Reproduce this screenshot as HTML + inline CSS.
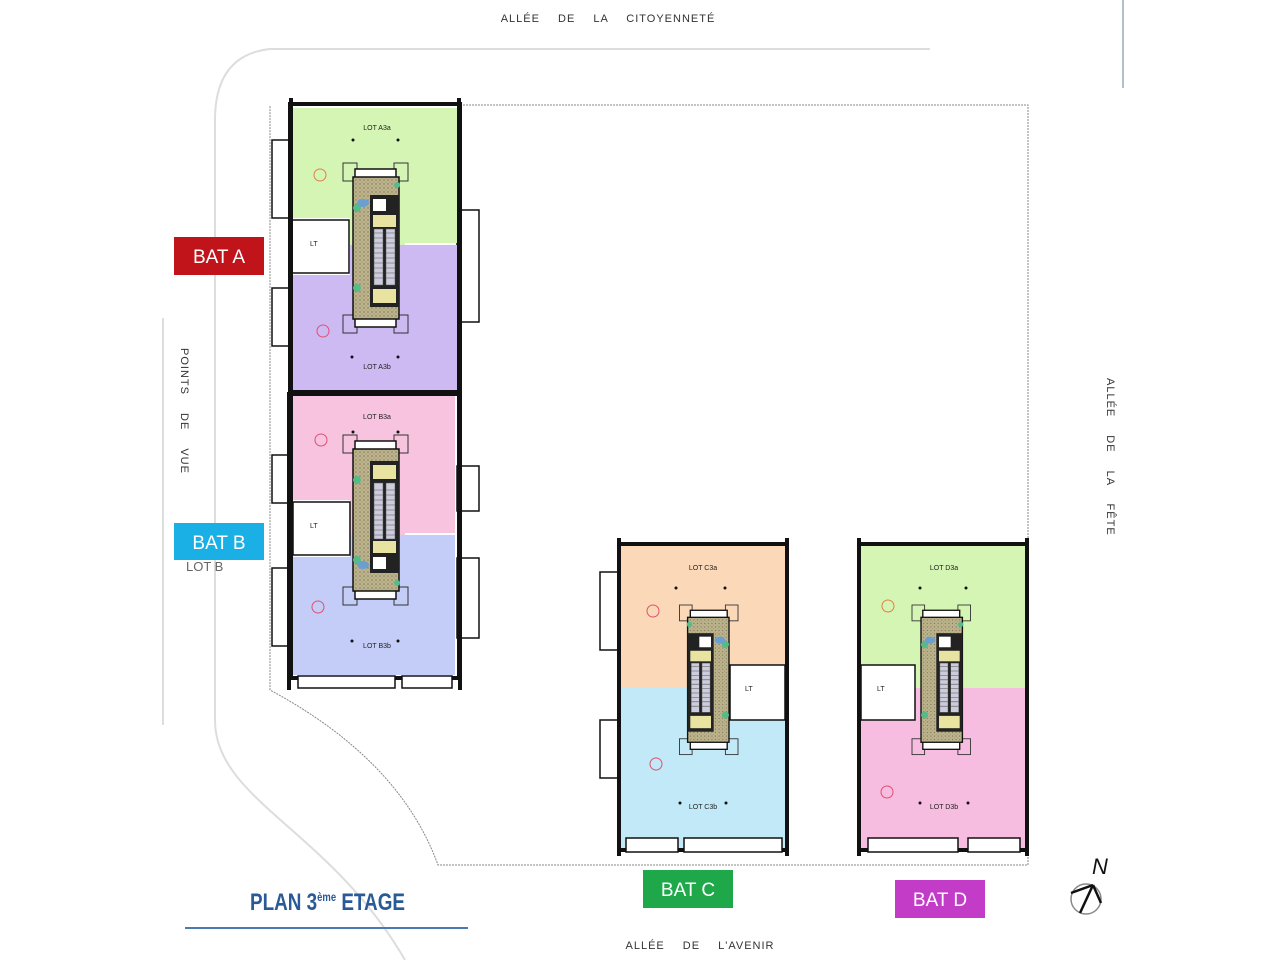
<!DOCTYPE html>
<html><head><meta charset="utf-8"><style>
html,body{margin:0;padding:0;background:#fff;width:1280px;height:960px;overflow:hidden}
svg{display:block}
text{font-family:"Liberation Sans",sans-serif}
.lbl{font-size:7px;fill:#222}
.road{font-size:11px;fill:#333;letter-spacing:1px}
</style></head><body>
<svg width="1280" height="960" viewBox="0 0 1280 960" xmlns="http://www.w3.org/2000/svg">
<defs>
<pattern id="hatch" width="4" height="4" patternUnits="userSpaceOnUse">
<rect width="4" height="4" fill="#bdb48c"/><circle cx="1" cy="1" r="0.7" fill="#7a7356"/><circle cx="3" cy="3" r="0.6" fill="#9a9274"/>
</pattern>
<g id="core">
<rect x="0" y="0" width="14" height="18" fill="none" stroke="#333" stroke-width="1"/>
<rect x="51" y="0" width="14" height="18" fill="none" stroke="#333" stroke-width="1"/>
<rect x="0" y="152" width="14" height="18" fill="none" stroke="#333" stroke-width="1"/>
<rect x="51" y="152" width="14" height="18" fill="none" stroke="#333" stroke-width="1"/>
<rect x="12" y="6" width="41" height="158" fill="#fff" stroke="#111" stroke-width="1.5"/>
<rect x="10" y="14" width="46" height="142" fill="url(#hatch)" stroke="#111" stroke-width="1.5"/>
<rect x="27" y="32" width="29" height="112" fill="#222"/>
<rect x="30" y="36" width="13" height="12" fill="#fff"/>
<rect x="30" y="52" width="23" height="12" fill="#e8e3a0"/>
<rect x="31" y="66" width="9" height="56" fill="#ccd" stroke="#555" stroke-width="0.5"/>
<rect x="43" y="66" width="9" height="56" fill="#ccd" stroke="#555" stroke-width="0.5"/>
<path d="M31 70h9M31 75h9M31 80h9M31 85h9M31 90h9M31 95h9M31 100h9M31 105h9M31 110h9M31 115h9M43 70h9M43 75h9M43 80h9M43 85h9M43 90h9M43 95h9M43 100h9M43 105h9M43 110h9M43 115h9" stroke="#555" stroke-width="0.6"/>
<rect x="30" y="126" width="23" height="14" fill="#e8e3a0"/>
<circle cx="14" cy="45" r="4" fill="#5b8"/><circle cx="14" cy="125" r="4" fill="#5b8"/><circle cx="54" cy="22" r="3" fill="#5b8"/>
<ellipse cx="20" cy="40" rx="6" ry="4" fill="#6a9fd0"/>
</g>
</defs>

<path d="M930 49 H270 Q215 55 215 120 V720 C215 800 330 830 405 960" fill="none" stroke="#ddd" stroke-width="2"/>
<line x1="163" y1="318" x2="163" y2="725" stroke="#ddd" stroke-width="2"/>
<line x1="1123" y1="0" x2="1123" y2="88" stroke="#9ab" stroke-width="1.5"/>
<path d="M460 105 H1028 V865 H438 Q400 760 270 690 V105" fill="none" stroke="#888" stroke-width="1" stroke-dasharray="2,1"/>

<g>
<rect x="272" y="140" width="20" height="78" fill="#fff" stroke="#111" stroke-width="1.5"/>
<rect x="272" y="288" width="20" height="58" fill="#fff" stroke="#111" stroke-width="1.5"/>
<rect x="457" y="210" width="22" height="112" fill="#fff" stroke="#111" stroke-width="1.5"/>
<path d="M292 108 H457 V243 H405 V245 H350 V218 H292 Z" fill="#d5f5b5"/>
<path d="M292 275 H350 V245 H457 V390 H292 Z" fill="#cdbaf3"/>
<rect x="292" y="220" width="57" height="53" fill="#fff" stroke="#111" stroke-width="1.5"/>
<rect x="290" y="104" width="170" height="288" fill="none" stroke="#111" stroke-width="4"/>
<line x1="291" y1="98" x2="291" y2="396" stroke="#111" stroke-width="4"/>
<line x1="459" y1="98" x2="459" y2="396" stroke="#111" stroke-width="4"/>
<use href="#core" x="343" y="163"/>
<text x="377" y="130" class="lbl" text-anchor="middle">LOT A3a</text>
<text x="377" y="369" class="lbl" text-anchor="middle">LOT A3b</text>
<text x="310" y="246" class="lbl">LT</text>
<circle cx="320" cy="175" r="6" fill="none" stroke="#e08040"/>
<circle cx="323" cy="331" r="6" fill="none" stroke="#e05070"/>
<circle cx="353" cy="140" r="1.5" fill="#111"/><circle cx="398" cy="140" r="1.5" fill="#111"/>
<circle cx="352" cy="357" r="1.5" fill="#111"/><circle cx="398" cy="357" r="1.5" fill="#111"/>
</g>

<g>
<rect x="272" y="455" width="20" height="48" fill="#fff" stroke="#111" stroke-width="1.5"/>
<rect x="272" y="568" width="20" height="78" fill="#fff" stroke="#111" stroke-width="1.5"/>
<rect x="457" y="466" width="22" height="45" fill="#fff" stroke="#111" stroke-width="1.5"/>
<rect x="457" y="558" width="22" height="80" fill="#fff" stroke="#111" stroke-width="1.5"/>
<path d="M293 395 H455 V533 H405 V535 H350 V500 H293 Z" fill="#f7c3df"/>
<path d="M293 557 H350 V535 H455 V675 H293 Z" fill="#c3cdf7"/>
<rect x="293" y="502" width="57" height="53" fill="#fff" stroke="#111" stroke-width="1.5"/>
<rect x="291" y="394" width="168" height="284" fill="none" stroke="#111" stroke-width="4"/>
<line x1="289" y1="392" x2="289" y2="690" stroke="#111" stroke-width="4"/>
<line x1="460" y1="392" x2="460" y2="690" stroke="#111" stroke-width="4"/>
<rect x="298" y="676" width="97" height="12" fill="#fff" stroke="#111" stroke-width="1.5"/>
<rect x="402" y="676" width="50" height="12" fill="#fff" stroke="#111" stroke-width="1.5"/>
<use href="#core" transform="translate(343 605) scale(1,-1)"/>
<text x="377" y="419" class="lbl" text-anchor="middle">LOT B3a</text>
<text x="377" y="648" class="lbl" text-anchor="middle">LOT B3b</text>
<text x="310" y="528" class="lbl">LT</text>
<circle cx="321" cy="440" r="6" fill="none" stroke="#e05070"/>
<circle cx="318" cy="607" r="6" fill="none" stroke="#e05070"/>
<circle cx="353" cy="432" r="1.5" fill="#111"/><circle cx="398" cy="432" r="1.5" fill="#111"/>
<circle cx="352" cy="641" r="1.5" fill="#111"/><circle cx="398" cy="641" r="1.5" fill="#111"/>
</g>

<g>
<rect x="600" y="572" width="18" height="78" fill="#fff" stroke="#111" stroke-width="1.5"/>
<rect x="600" y="720" width="18" height="58" fill="#fff" stroke="#111" stroke-width="1.5"/>
<path d="M621 546 H785 V665 H730 V688 H621 Z" fill="#fbd8b8"/>
<path d="M621 688 H730 V720 H785 V848 H621 Z" fill="#c2e9f8"/>
<rect x="730" y="665" width="55" height="55" fill="#fff" stroke="#111" stroke-width="1.5"/>
<rect x="619" y="544" width="168" height="306" fill="none" stroke="#111" stroke-width="4"/>
<line x1="619" y1="538" x2="619" y2="856" stroke="#111" stroke-width="4"/>
<line x1="787" y1="538" x2="787" y2="856" stroke="#111" stroke-width="4"/>
<rect x="626" y="838" width="52" height="14" fill="#fff" stroke="#111" stroke-width="1.5"/>
<rect x="684" y="838" width="98" height="14" fill="#fff" stroke="#111" stroke-width="1.5"/>
<use href="#core" transform="translate(738 605) scale(-0.9,0.88)"/>
<text x="703" y="570" class="lbl" text-anchor="middle">LOT C3a</text>
<text x="703" y="809" class="lbl" text-anchor="middle">LOT C3b</text>
<text x="745" y="691" class="lbl">LT</text>
<circle cx="653" cy="611" r="6" fill="none" stroke="#e05070"/>
<circle cx="656" cy="764" r="6" fill="none" stroke="#e05070"/>
<circle cx="676" cy="588" r="1.5" fill="#111"/><circle cx="725" cy="588" r="1.5" fill="#111"/>
<circle cx="680" cy="803" r="1.5" fill="#111"/><circle cx="726" cy="803" r="1.5" fill="#111"/>
</g>

<g>
<path d="M861 546 H1025 V688 H915 V665 H861 Z" fill="#d5f5b5"/>
<path d="M861 720 H915 V688 H1025 V848 H861 Z" fill="#f7bde0"/>
<rect x="861" y="665" width="54" height="55" fill="#fff" stroke="#111" stroke-width="1.5"/>
<rect x="859" y="544" width="168" height="306" fill="none" stroke="#111" stroke-width="4"/>
<line x1="859" y1="538" x2="859" y2="856" stroke="#111" stroke-width="4"/>
<line x1="1027" y1="538" x2="1027" y2="856" stroke="#111" stroke-width="4"/>
<rect x="868" y="838" width="90" height="14" fill="#fff" stroke="#111" stroke-width="1.5"/>
<rect x="968" y="838" width="52" height="14" fill="#fff" stroke="#111" stroke-width="1.5"/>
<use href="#core" transform="translate(912 605) scale(0.9,0.88)"/>
<text x="944" y="570" class="lbl" text-anchor="middle">LOT D3a</text>
<text x="944" y="809" class="lbl" text-anchor="middle">LOT D3b</text>
<text x="877" y="691" class="lbl">LT</text>
<circle cx="888" cy="606" r="6" fill="none" stroke="#e08040"/>
<circle cx="887" cy="792" r="6" fill="none" stroke="#e05070"/>
<circle cx="920" cy="588" r="1.5" fill="#111"/><circle cx="966" cy="588" r="1.5" fill="#111"/>
<circle cx="920" cy="803" r="1.5" fill="#111"/><circle cx="968" cy="803" r="1.5" fill="#111"/>
</g>

<text x="608" y="22" class="road" text-anchor="middle" word-spacing="14">ALLÉE DE LA CITOYENNETÉ</text>
<text x="700" y="949" class="road" text-anchor="middle" word-spacing="14">ALLÉE DE L'AVENIR</text>
<text transform="translate(181 348) rotate(90)" class="road" word-spacing="14">POINTS DE VUE</text>
<text transform="translate(1107 378) rotate(90)" class="road" word-spacing="14">ALLÉE DE LA FÊTE</text>
<text x="186" y="571" style="font-size:13px;fill:#666">LOT B</text>

<rect x="174" y="237" width="90" height="38" fill="#c0141a"/>
<text x="219" y="263" fill="#fff" text-anchor="middle" style="font-size:19px">BAT A</text>
<rect x="174" y="523" width="90" height="37" fill="#1ab0e6"/>
<text x="219" y="549" fill="#fff" text-anchor="middle" style="font-size:19px">BAT B</text>
<rect x="643" y="870" width="90" height="38" fill="#1ea84a"/>
<text x="688" y="896" fill="#fff" text-anchor="middle" style="font-size:19px">BAT C</text>
<rect x="895" y="880" width="90" height="38" fill="#c33cc7"/>
<text x="940" y="906" fill="#fff" text-anchor="middle" style="font-size:19px">BAT D</text>

<text x="250" y="910" fill="#2a5a96" style="font-size:24px;font-weight:bold" textLength="155" lengthAdjust="spacingAndGlyphs">PLAN  3<tspan dy="-9" style="font-size:12px">ème</tspan><tspan dy="9"> ETAGE</tspan></text>
<line x1="185" y1="928" x2="468" y2="928" stroke="#4a7ab0" stroke-width="2"/>

<text x="1092" y="874" style="font-size:22px;font-style:italic" fill="#111">N</text>
<circle cx="1086" cy="899" r="15" fill="none" stroke="#888" stroke-width="1.5"/>
<path d="M1071 893 L1093 885 M1093 885 L1080 913 M1093 885 L1101 903" stroke="#111" stroke-width="2.5" fill="none"/>
</svg>
</body></html>
